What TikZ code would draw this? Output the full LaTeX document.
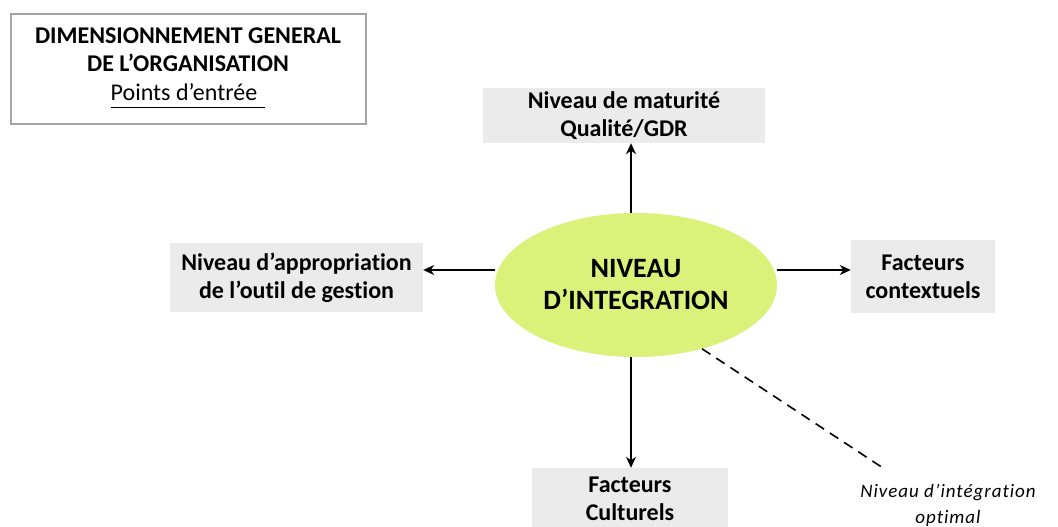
\documentclass[tikz,border=0pt]{standalone}
\usepackage{fontspec}
\setmainfont{Carlito}[Ligatures=NoCommon]
\newfontfamily\spacedfont[LetterSpace=5,Ligatures=NoCommon]{Carlito}
\usetikzlibrary{shapes.geometric,arrows.meta}
\definecolor{boxgray}{RGB}{235,235,235}
\definecolor{limefill}{RGB}{218,242,122}
\definecolor{framegray}{RGB}{165,165,165}
\newcommand\ulpe[1]{\setbox0\hbox{#1}\rlap{\rule[-8pt]{\dimexpr\wd0+8pt\relax}{1.8pt}}\hbox to \dimexpr\wd0+8pt\relax{\box0\hfil}}
\begin{document}
\begin{tikzpicture}[x=1pt,y=-1pt,
  lbl/.style={rectangle, fill=boxgray, inner sep=0pt, align=center,
    font=\fontsize{24}{28}\selectfont\bfseries},
  arr/.style={-{Stealth[length=11pt,width=10pt]}, line width=1.8pt},
  dash line/.style={line width=1.6pt, dash pattern=on 10pt off 7pt}]
\useasboundingbox (0,0) rectangle (1058,527);
\fill[white] (0,0) rectangle (1058,527);

\node[draw=framegray, line width=2pt, minimum width=355pt, minimum height=110pt,
  inner sep=0pt] (dim) at (188,69) {};
\node[inner sep=0pt, align=center, font=\fontsize{24}{28.5}\selectfont\bfseries]
  (dimtxt) at (188,68) {DIMENSIONNEMENT GENERAL\\DE L’ORGANISATION\\{\mdseries\ulpe{Points d’entrée}}};

\node[ellipse, fill=limefill, minimum width=282pt, minimum height=144pt, inner sep=0pt,
  align=center, font=\fontsize{28}{32}\selectfont\bfseries]
  (ell) at (636,285) {NIVEAU\\D’INTEGRATION};

\node[lbl, minimum width=282pt, minimum height=55pt]
  (top) at (624,115.5) {Niveau de maturité\\Qualité/GDR};
\node[lbl, minimum width=253pt, minimum height=69pt]
  (left) at (296.5,277.5) {Niveau d’appropriation\\de l’outil de gestion};
\node[lbl, minimum width=144pt, minimum height=73pt]
  (right) at (923,276.5) {Facteurs\\contextuels};
\node[lbl, minimum width=196pt, minimum height=62pt]
  (bottom) at (630,499) {Facteurs\\Culturels};

\node[align=center, inner sep=0pt, font=\fontsize{19}{26}\selectfont\spacedfont\itshape]
  (opt) at (948,505) {Niveau d’intégration\\optimal};

\coordinate (hy) at (0,270);
\coordinate (dend) at (883,468);

\draw[arr] ([xshift=-5pt]ell.north) -- ([xshift=-5pt]ell.north |- top.south);
\draw[arr] ([xshift=-5pt]ell.south) -- ([xshift=-5pt]ell.south |- bottom.north);
\draw[arr] (ell.west |- hy) -- (left.east |- hy);
\draw[arr] (ell.east |- hy) -- (right.west |- hy);
\draw[dash line] (ell.-44) -- (dend);
\end{tikzpicture}
\end{document}
